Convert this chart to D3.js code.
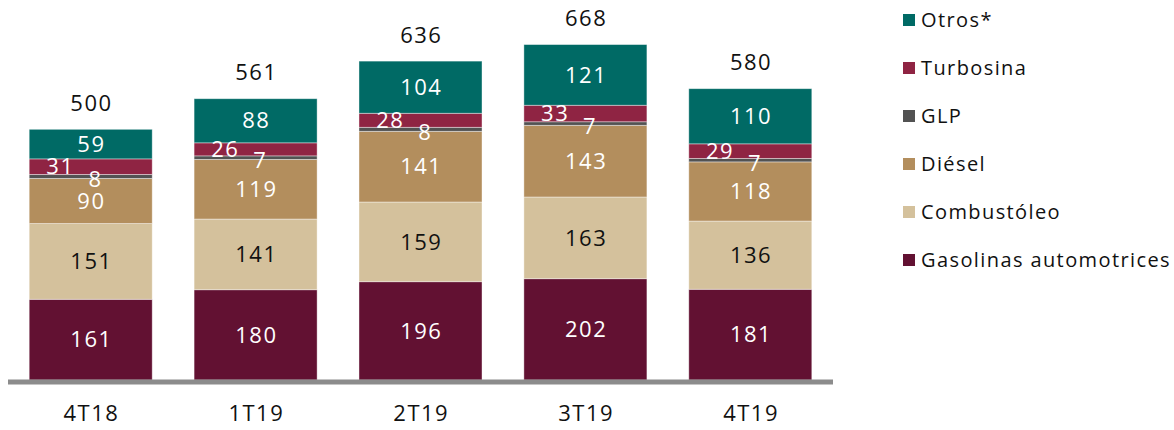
<!DOCTYPE html>
<html>
<head>
<meta charset="utf-8">
<script src="https://cdn.jsdelivr.net/npm/d3@7"></script>
<style>
  body { margin: 0; background: #fff; }
  svg { display: block; font-family: "Open Sans", sans-serif; }
</style>
</head>
<body>
<svg width="1174" height="430"></svg>
<script>
const categories = ['4T18', '1T19', '2T19', '3T19', '4T19'];
const seriesNames = ['Gasolinas automotrices', 'Combustóleo', 'Diésel', 'GLP', 'Turbosina', 'Otros*'];
const gasolinas = [161, 180, 196, 202, 181];
const combustoleo = [151, 141, 159, 163, 136];
const diesel = [90, 119, 141, 143, 118];
const glp = [8, 7, 8, 7, 7];
const turbosina = [31, 26, 28, 33, 29];
const otros = [59, 88, 104, 121, 110];
const totals = [500, 561, 636, 668, 580];
const colors = ['#621132', '#D4C19C', '#B38E5D', '#525252', '#8F2443', '#006A65'];
const labelColors = ['#fff', '#111', '#fff', '#fff', '#fff', '#fff'];

const seriesValues = [gasolinas, combustoleo, diesel, glp, turbosina, otros];
const rows = categories.map((c, i) => {
    const r = {cat: c};
    seriesNames.forEach((s, j) => r[s] = seriesValues[j][i]);
    return r;
});

const stack = d3.stack().keys(seriesNames)(rows);

const svg = d3.select('svg');

const xScale = d3.scaleBand()
    .domain(categories)
    .range([0, 825])
    .paddingInner(0.254)
    .paddingOuter(0.1285);

const yScale = d3.scaleLinear()
    .domain([0, 500])
    .range([380, 129.3]);

const g = svg.append('g').attr('transform', 'translate(8,0)');

const layers = g.selectAll('.layer')
    .data(stack)
    .enter()
    .append('g')
    .attr('fill', (d, i) => colors[i]);

layers.selectAll('rect')
    .data(d => d)
    .enter()
    .append('rect')
    .attr('x', d => xScale(d.data.cat))
    .attr('width', xScale.bandwidth())
    .attr('y', d => yScale(d[1]))
    .attr('height', d => yScale(d[0]) - yScale(d[1]))
    .attr('stroke', '#ffffff')
    .attr('stroke-opacity', 0.5)
    .attr('stroke-width', 0.8);

// segment labels
stack.forEach((layer, i) => {
    g.selectAll('.lbl' + i)
        .data(layer)
        .enter()
        .append('text')
        .attr('x', d => {
            let cx = xScale(d.data.cat) + xScale.bandwidth() / 2 + 0.75;
            if (i === 4) cx -= 31;
            if (i === 3) cx += 4;
            return cx;
        })
        .attr('y', d => {
            if (i === 3) return yScale((d[0] + d[1]) / 2) + 3;
            return yScale((d[0] + d[1]) / 2);
        })
        .attr('dy', '0.35em')
        .attr('text-anchor', 'middle')
        .attr('fill', labelColors[i])
        .style('font-size', '22px')
        .style('letter-spacing', '1.5px')
        .text(d => d.data[layer.key]);
});

// totals
g.selectAll('.total')
    .data(categories)
    .enter()
    .append('text')
    .attr('x', c => xScale(c) + xScale.bandwidth() / 2 + 0.75)
    .attr('y', (c, i) => yScale(d3.sum(seriesValues, s => s[i])) - 26)
    .attr('dy', '0.35em')
    .attr('text-anchor', 'middle')
    .attr('fill', '#111')
    .style('font-size', '22px')
    .style('letter-spacing', '1.5px')
    .text((c, i) => totals[i]);

// x axis
g.append('line')
    .attr('x1', 0).attr('x2', 825)
    .attr('y1', 382).attr('y2', 382)
    .attr('stroke', '#8c8c8c')
    .attr('stroke-width', 5);

const xAxis = g.append('g')
    .attr('transform', 'translate(0.75,387)')
    .call(d3.axisBottom(xScale).tickSize(0).tickPadding(18));
xAxis.select('.domain').remove();
xAxis.selectAll('text')
    .attr('fill', '#111')
    .style('font-size', '22px')
    .style('letter-spacing', '1.5px')
    .style('font-family', '"Open Sans", sans-serif');

// legend
const legendNames = seriesNames.slice().reverse();
const legendColors = colors.slice().reverse();
const legend = svg.append('g').attr('transform', 'translate(903,20)');
const items = legend.selectAll('.item')
    .data(legendNames)
    .enter()
    .append('g')
    .attr('transform', (d, i) => `translate(0,${i * 48})`);
items.append('rect')
    .attr('x', 0).attr('y', -6)
    .attr('width', 12).attr('height', 12)
    .attr('fill', (d, i) => legendColors[i]);
items.append('text')
    .attr('x', 18)
    .attr('dy', '0.35em')
    .attr('fill', '#111')
    .style('font-size', '20px')
    .style('letter-spacing', '1.4px')
    .text(d => d);
</script>
</body>
</html>
